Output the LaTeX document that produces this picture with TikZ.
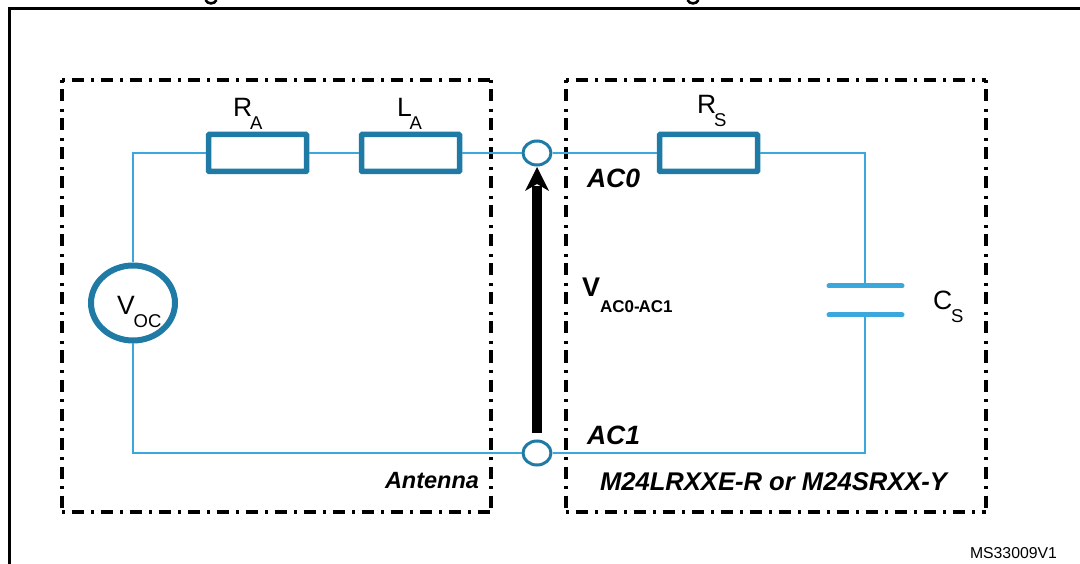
\documentclass[tikz,border=0pt]{standalone}
\usepackage{fontspec}
\setmainfont{Liberation Sans}
\usetikzlibrary{shapes.geometric}
\definecolor{wirecol}{HTML}{3AA8DC}
\definecolor{partcol}{HTML}{1F7BA5}
\newcommand{\fsz}[1]{\fontsize{#1}{#1}\selectfont}
\newcommand{\lbl}[3]{\fsz{26.5}#1\kern#3pt\lower13pt\hbox{\fsz{18.5}#2}}
\tikzset{
  wire/.style={draw=wirecol,line width=2pt},
  resbox/.style={draw=partcol,line width=5.5pt,fill=white,rounded corners=0.8pt,minimum width=98pt,minimum height=37pt,inner sep=0pt},
  port/.style={ellipse,draw=partcol,line width=3pt,fill=white,minimum width=28pt,minimum height=24pt,inner sep=0pt},
  source/.style={ellipse,draw=partcol,line width=6pt,fill=white,minimum width=84pt,minimum height=75pt,inner sep=0pt},
  plate/.style={draw=wirecol,line width=5pt,line cap=round},
  region/.style={draw=black,line width=3.6pt,dash pattern=on 3pt off 6.5pt on 12pt off 7.5pt},
  frameline/.style={draw=black,line width=3pt},
  txt/.style={anchor=base west,inner sep=0pt,outer sep=0pt,text=black},
  bi/.style={txt,font=\fsz{23.5}\bfseries\itshape},
  vecarrow/.style={draw=black,line width=10pt}
}
\begin{document}
\begin{tikzpicture}[x=1pt,y=-1pt]
\useasboundingbox (0,0) rectangle (1080,564);
\fill[white] (0,0) rectangle (1080,564);
% frame and cut-off title descenders
\draw[frameline] (9,564) -- (9,9) -- (1080,9);
\draw[black,line width=2.6pt] (205.5,0) .. controls (207.5,4.5) and (214.5,4.5) .. (216.5,0);
\draw[black,line width=2.6pt] (687.5,0) .. controls (689.5,4.5) and (696.5,4.5) .. (698.5,0);
% regions
\coordinate (ATL) at (62,80); \coordinate (ATR) at (491,80);
\coordinate (ABL) at (62,512); \coordinate (ABR) at (491,512);
\coordinate (MTL) at (566,80); \coordinate (MTR) at (986,80);
\coordinate (MBL) at (566,512); \coordinate (MBR) at (986,512);
\draw[region] (ATL) -- (ATR);
\draw[region] (ABL) -- (ABR);
\draw[region] (ATL) -- (ABL);
\draw[region] (ATR) -- (ABR);
\draw[region] (MTL) -- (MTR);
\draw[region] (MBL) -- (MBR);
\draw[region] (MTL) -- (MBL);
\draw[region] (MTR) -- (MBR);
% parts
\node[resbox] (RA) at (257.5,153) {};
\node[resbox] (LA) at (410.5,153) {};
\node[resbox] (RS) at (708.5,153) {};
\node[source] (VS) at (133,303) {};
\node[port] (P0) at (537,153) {};
\node[port] (P1) at (537,453) {};
\coordinate (TL) at (133,153);
\coordinate (BL) at (133,453);
\coordinate (TR) at (865,153);
\coordinate (BR) at (865,453);
\coordinate (C0) at (865,286);
\coordinate (C1) at (865,315);
\coordinate (P0a) at (829,286);
\coordinate (P0b) at (902,286);
\coordinate (P1a) at (829,315);
\coordinate (P1b) at (902,315);
% wires
\draw[wire] (VS.north) -- (TL) -- (RA.west);
\draw[wire] (RA.east) -- (LA.west);
\draw[wire] (LA.east) -- (P0.west);
\draw[wire] (P0.east) -- (RS.west);
\draw[wire] (RS.east) -- (TR) -- (C0);
\draw[wire] (C1) -- (BR) -- (P1.east);
\draw[wire] (P1.west) -- (BL) -- (VS.south);
% capacitor
\draw[plate] (P0a) -- (P0b);
\draw[plate] (P1a) -- (P1b);
% voltage arrow
\coordinate (AS) at (537,433);
\coordinate (AB) at (537,186);
\coordinate (AT) at (537,167);
\draw[vecarrow] (AS) -- (AB);
\fill[black] (AT) -- (549,191) -- (537,184) -- (525,191) -- cycle;
% labels
\node[txt] (tRA) at (233,117) {\lbl{R}{A}{-2}};
\node[txt] (tLA) at (397,117) {\lbl{L}{A}{-2}};
\node[txt] (tRS) at (697,114) {\lbl{R}{S}{-2}};
\node[txt] (tVO) at (117,315) {\lbl{V}{OC}{-1}};
\node[txt] (tCS) at (933,310) {\lbl{C}{S}{-1}};
\node[txt,font=\fsz{27}\bfseries] (tV) at (582,297) {V};
\node[txt,font=\fsz{17}\bfseries] (tVs) at (600,313) {AC0-\kern-1pt AC1};
\node[txt,font=\fsz{26.5}\bfseries\itshape] (tA0) at (587,188) {AC0};
\node[txt,font=\fsz{26.5}\bfseries\itshape] (tA1) at (587,444) {AC1};
\node[bi] (tAn) at (385,488) {Antenna};
\node[txt,font=\fsz{25.6}\bfseries\itshape] (tM) at (600,490) {M24LRXXE-R or M24SRXX-Y};
\node[txt,font=\fsz{15.8}] (tMS) at (970,558) {MS33009V1};
\end{tikzpicture}
\end{document}
